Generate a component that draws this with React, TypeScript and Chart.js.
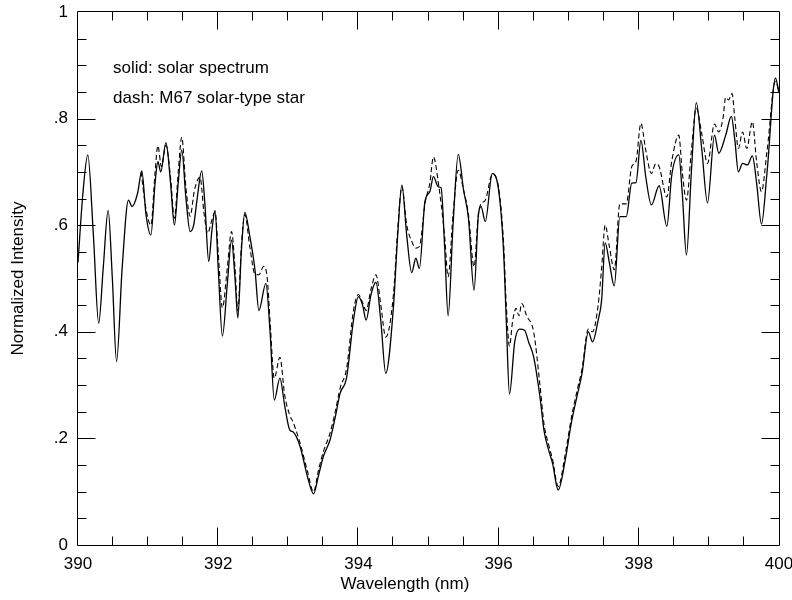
import React, { useEffect, useRef } from 'react';
import { Chart, registerables } from 'chart.js';

Chart.register(...registerables);

// Solar spectrum (solid line)
const solarWavelength = [
  390.00, 390.07, 390.14, 390.22, 390.295, 390.36, 390.43, 390.49, 390.55, 390.63,
  390.72, 390.77, 390.85, 390.91, 390.97, 391.04, 391.10, 391.14, 391.18, 391.255,
  391.32, 391.375, 391.43, 391.48, 391.54, 391.60, 391.65, 391.70, 391.765, 391.81,
  391.865, 391.91, 391.955, 392.00, 392.06, 392.13, 392.19, 392.24, 392.28, 392.33,
  392.38, 392.45, 392.525, 392.58, 392.68, 392.74, 392.80, 392.88, 392.95, 393.02,
  393.07, 393.17, 393.27, 393.36, 393.43, 393.50, 393.595, 393.67, 393.74, 393.83,
  393.93, 394.00, 394.06, 394.11, 394.18, 394.25, 394.32, 394.39, 394.50, 394.56,
  394.62, 394.69, 394.76, 394.82, 394.87, 394.95, 395.02, 395.07, 395.14, 395.18,
  395.23, 395.28, 395.35, 395.425, 395.50, 395.57, 395.65, 395.71, 395.75, 395.81,
  395.91, 396.00, 396.07, 396.11, 396.155, 396.23, 396.30, 396.37, 396.43, 396.50,
  396.59, 396.65, 396.71, 396.77, 396.85, 396.95, 397.04, 397.12, 397.19, 397.28,
  397.34, 397.42, 397.47, 397.52, 397.58, 397.65, 397.73, 397.82, 397.90, 397.96,
  398.03, 398.10, 398.18, 398.29, 398.40, 398.47, 398.57, 398.62, 398.68, 398.75,
  398.82, 398.90, 398.98, 399.08, 399.14, 399.24, 399.32, 399.37, 399.42, 399.48,
  399.55, 399.62, 399.68, 399.75, 399.83, 399.95, 400.00,
];
const solarIntensity = [
  0.53, 0.66, 0.732, 0.58, 0.416, 0.52, 0.628, 0.50, 0.344, 0.52,
  0.647, 0.635, 0.66, 0.702, 0.62, 0.582, 0.68, 0.719, 0.700, 0.755,
  0.68, 0.600, 0.68, 0.741, 0.65, 0.588, 0.60, 0.65, 0.702, 0.64,
  0.532, 0.59, 0.628, 0.52, 0.392, 0.49, 0.572, 0.50, 0.426, 0.55,
  0.624, 0.58, 0.516, 0.44, 0.491, 0.40, 0.272, 0.313, 0.26, 0.216,
  0.212, 0.184, 0.13, 0.096, 0.13, 0.166, 0.197, 0.24, 0.285, 0.313,
  0.422, 0.466, 0.45, 0.422, 0.47, 0.493, 0.42, 0.322, 0.447, 0.58,
  0.675, 0.58, 0.511, 0.538, 0.519, 0.645, 0.663, 0.691, 0.672, 0.67,
  0.56, 0.43, 0.60, 0.733, 0.666, 0.613, 0.478, 0.616, 0.635, 0.607,
  0.697, 0.666, 0.553, 0.42, 0.283, 0.381, 0.405, 0.403, 0.38, 0.353,
  0.278, 0.213, 0.18, 0.153, 0.103, 0.159, 0.231, 0.28, 0.322, 0.40,
  0.381, 0.422, 0.46, 0.567, 0.53, 0.486, 0.616, 0.616, 0.679, 0.68,
  0.759, 0.69, 0.638, 0.674, 0.598, 0.694, 0.732, 0.66, 0.544, 0.70,
  0.83, 0.74, 0.642, 0.769, 0.735, 0.769, 0.804, 0.76, 0.70, 0.716,
  0.713, 0.73, 0.68, 0.602, 0.70, 0.876, 0.848,
];

// M67 solar-type star (dashed line)
const starWavelength = [
  390.90, 390.97, 391.04, 391.10, 391.14, 391.19, 391.255, 391.32, 391.375, 391.43,
  391.48, 391.54, 391.60, 391.66, 391.74, 391.80, 391.85, 391.91, 391.955, 392.00,
  392.06, 392.13, 392.19, 392.24, 392.28, 392.33, 392.38, 392.45, 392.525, 392.58,
  392.65, 392.70, 392.74, 392.80, 392.88, 392.95, 393.02, 393.07, 393.17, 393.27,
  393.36, 393.43, 393.50, 393.595, 393.67, 393.74, 393.83, 393.93, 394.00, 394.06,
  394.11, 394.18, 394.25, 394.32, 394.39, 394.50, 394.56, 394.62, 394.69, 394.76,
  394.82, 394.87, 394.95, 395.02, 395.07, 395.14, 395.23, 395.28, 395.35, 395.425,
  395.50, 395.57, 395.65, 395.71, 395.75, 395.81, 395.91, 396.00, 396.07, 396.11,
  396.155, 396.20, 396.25, 396.29, 396.33, 396.40, 396.50, 396.59, 396.65, 396.71,
  396.77, 396.85, 396.95, 397.04, 397.12, 397.19, 397.28, 397.34, 397.42, 397.47,
  397.52, 397.58, 397.65, 397.73, 397.82, 397.90, 397.96, 398.03, 398.10, 398.18,
  398.24, 398.29, 398.40, 398.47, 398.57, 398.62, 398.68, 398.75, 398.82, 398.90,
  398.98, 399.08, 399.14, 399.20, 399.24, 399.28, 399.33, 399.37, 399.42, 399.48,
  399.54, 399.62, 399.68, 399.75, 399.83, 399.95, 400.00,
];
const starIntensity = [
  0.70, 0.63, 0.60, 0.70, 0.749, 0.71, 0.75, 0.69, 0.613, 0.70,
  0.765, 0.67, 0.617, 0.665, 0.69, 0.62, 0.585, 0.61, 0.625, 0.55,
  0.445, 0.52, 0.588, 0.52, 0.44, 0.56, 0.62, 0.56, 0.508, 0.507,
  0.523, 0.50, 0.42, 0.313, 0.352, 0.28, 0.244, 0.23, 0.19, 0.14,
  0.100, 0.14, 0.175, 0.21, 0.25, 0.295, 0.33, 0.44, 0.47, 0.455,
  0.44, 0.48, 0.507, 0.45, 0.39, 0.47, 0.59, 0.672, 0.60, 0.57,
  0.557, 0.56, 0.64, 0.68, 0.728, 0.68, 0.58, 0.503, 0.62, 0.703,
  0.666, 0.62, 0.522, 0.62, 0.64, 0.647, 0.695, 0.67, 0.57, 0.45,
  0.373, 0.42, 0.444, 0.43, 0.453, 0.43, 0.40, 0.30, 0.225, 0.19,
  0.16, 0.11, 0.17, 0.24, 0.29, 0.33, 0.405, 0.40, 0.45, 0.52,
  0.60, 0.56, 0.516, 0.64, 0.64, 0.71, 0.72, 0.791, 0.74, 0.697,
  0.715, 0.71, 0.653, 0.72, 0.769, 0.70, 0.647, 0.74, 0.82, 0.77,
  0.716, 0.79, 0.775, 0.80, 0.84, 0.835, 0.847, 0.80, 0.744, 0.775,
  0.744, 0.794, 0.72, 0.663, 0.74, 0.87, 0.85,
];

const xRange = [390, 400];
const yRange = [0, 1];
const xMajorStep = 2;
const xMinorStep = 0.5;
const yMajorStep = 0.2;
const yMinorStep = 0.05;

const legendLines = ['solid: solar spectrum', 'dash: M67 solar-type star'];
const xAxisTitle = 'Wavelength (nm)';
const yAxisTitle = 'Normalized Intensity';

const FONT = '"Liberation Sans", Arial, Helvetica, sans-serif';
const FONT_SIZE = 17;

const framePlugin = {
  id: 'frameTicks',
  afterDatasetsDraw(chart: any) {
    const { ctx, chartArea: a, scales } = chart;
    const xs = scales.x;
    const ys = scales.y;
    ctx.save();
    ctx.strokeStyle = '#000';
    ctx.lineWidth = 1;
    const L = a.left - 0.5;
    const R = a.right + 0.5;
    const T = a.top - 0.5;
    const B = a.bottom + 0.5;
    ctx.beginPath();
    ctx.rect(L, T, R - L, B - T);
    ctx.stroke();

    const majorLen = 18;
    const minorLen = 9;
    ctx.beginPath();
    const nx = Math.round((xRange[1] - xRange[0]) / xMinorStep);
    const xRatio = Math.round(xMajorStep / xMinorStep);
    for (let i = 1; i < nx; i++) {
      const v = xRange[0] + i * xMinorStep;
      const px = Math.round(xs.getPixelForValue(v)) - 0.5;
      const len = i % xRatio === 0 ? majorLen : minorLen;
      ctx.moveTo(px, B);
      ctx.lineTo(px, B - len);
      ctx.moveTo(px, T);
      ctx.lineTo(px, T + len);
    }
    const ny = Math.round((yRange[1] - yRange[0]) / yMinorStep);
    const yRatio = Math.round(yMajorStep / yMinorStep);
    for (let i = 1; i < ny; i++) {
      const v = yRange[0] + i * yMinorStep;
      const py = Math.round(ys.getPixelForValue(v)) + 0.5;
      const len = i % yRatio === 0 ? majorLen : minorLen;
      ctx.moveTo(L, py);
      ctx.lineTo(L + len, py);
      ctx.moveTo(R, py);
      ctx.lineTo(R - len, py);
    }
    ctx.stroke();

    // legend texts
    ctx.fillStyle = '#000';
    ctx.font = `${FONT_SIZE}px ${FONT}`;
    ctx.textAlign = 'left';
    ctx.textBaseline = 'middle';
    legendLines.forEach((t, i) => {
      ctx.fillText(t, a.left + 35, a.top + 56 + i * 30);
    });

    // axis titles
    ctx.textAlign = 'center';
    ctx.fillText(xAxisTitle, 405, 584);
    ctx.save();
    ctx.translate(18, (a.top + a.bottom) / 2);
    ctx.rotate(-Math.PI / 2);
    ctx.fillText(yAxisTitle, 0, 0);
    ctx.restore();
    ctx.restore();
  },
};

function formatY(v: number): string {
  if (Math.abs(v) < 1e-9) return '0';
  if (Math.abs(v - 1) < 1e-9) return '1';
  return '.' + Math.round(v * 10);
}

export default function App() {
  const ref = useRef<HTMLCanvasElement | null>(null);

  useEffect(() => {
    if (!ref.current) return;
    const chart = new Chart(ref.current, {
      type: 'line',
      data: {
        datasets: [
          {
            label: 'M67 solar-type star',
            data: starWavelength.map((w, i) => ({ x: w, y: starIntensity[i] })),
            borderColor: '#000',
            borderWidth: 1.1,
            borderDash: [5, 3],
            pointRadius: 0,
            cubicInterpolationMode: 'monotone',
            fill: false,
          },
          {
            label: 'solar spectrum',
            data: solarWavelength.map((w, i) => ({ x: w, y: solarIntensity[i] })),
            borderColor: '#000',
            borderWidth: 1.3,
            pointRadius: 0,
            cubicInterpolationMode: 'monotone',
            fill: false,
          },
        ],
      },
      options: {
        responsive: false,
        animation: false,
        events: [],
        layout: { padding: { top: 12, right: 13, left: 0, bottom: 0 } },
        plugins: {
          legend: { display: false },
          tooltip: { enabled: false },
          title: { display: false },
        },
        scales: {
          x: {
            type: 'linear',
            min: xRange[0],
            max: xRange[1],
            grid: { display: false, drawTicks: false },
            border: { display: false },
            ticks: {
              stepSize: xMajorStep,
              color: '#000',
              padding: 9,
              maxRotation: 0,
              font: { family: FONT, size: FONT_SIZE },
              callback: (v: any) => String(v),
            },
            afterFit: (s: any) => {
              s.height = 55;
              s.paddingLeft = 0;
              s.paddingRight = 0;
            },
          },
          y: {
            type: 'linear',
            min: yRange[0],
            max: yRange[1],
            grid: { display: false, drawTicks: false },
            border: { display: false },
            ticks: {
              stepSize: yMajorStep,
              color: '#000',
              padding: 10,
              font: { family: FONT, size: FONT_SIZE },
              callback: (v: any) => formatY(Number(v)),
            },
            afterFit: (s: any) => {
              s.width = 78;
              s.paddingTop = 0;
              s.paddingBottom = 0;
            },
          },
        },
      },
      plugins: [framePlugin],
    });
    return () => chart.destroy();
  }, []);

  return (
    <div style={{ position: 'absolute', left: 0, top: 0, width: 792, height: 600, background: '#fff' }}>
      <canvas ref={ref} width={792} height={600} style={{ display: 'block' }} />
    </div>
  );
}
